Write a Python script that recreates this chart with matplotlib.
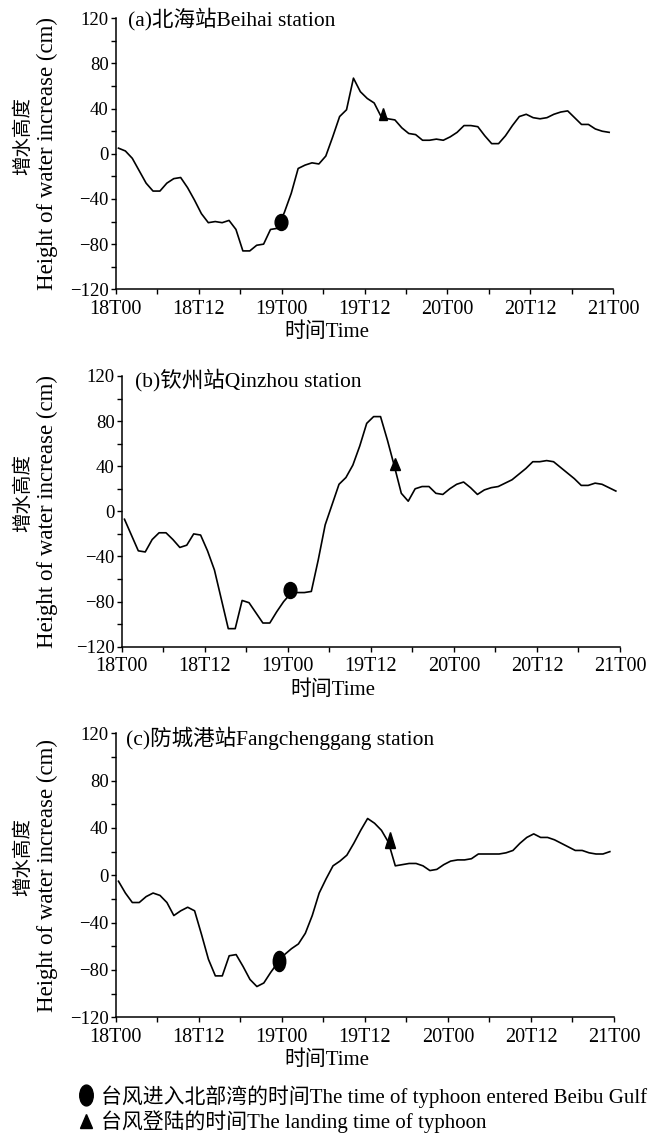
import numpy as np
import matplotlib
matplotlib.use('Agg')
import matplotlib.pyplot as plt
from matplotlib.markers import MarkerStyle
from matplotlib.transforms import Affine2D
from matplotlib.lines import Line2D

plt.rcParams['font.family'] = ['Liberation Serif', 'Noto Sans CJK SC']
plt.rcParams['axes.unicode_minus'] = True

# hourly water increase (cm), 18T00 -> 21T00
hours = np.arange(72) + 0.4

beihai = [5, 2.5, -4, -15, -26, -33, -33, -26, -22, -21, -30, -41, -53, -61, -60, -61,
          -59, -67, -86, -86, -81, -80, -67, -66, -52, -35, -13, -10, -8, -9, -2, 15,
          33, 39, 67, 55, 49, 45, 33, 31, 30, 23, 18, 17, 12, 12, 13, 12,
          15, 19, 25, 25, 24, 16, 9, 9, 16, 25, 33, 35, 32, 31, 32, 35,
          37, 38, 32, 26, 26, 22, 20, 19]

qinzhou = [-7, -21, -35, -36, -25, -19, -19, -25, -32, -30, -20, -21, -35, -52, -78, -104,
           -104, -79, -81, -90, -99, -99, -89, -80, -73, -72, -72, -71, -43, -12, 6, 24,
           30, 41, 58, 78, 84, 84, 63, 40, 16, 9, 20, 22, 22, 16, 15, 20,
           24, 26, 21, 15, 19, 21, 22, 25, 28, 33, 38, 44, 44, 45, 44, 39,
           34, 29, 23, 23, 25, 24, 21, 18]

fangcheng = [-5, -15, -23, -23, -18, -15, -17, -23, -34, -30, -27, -30, -50, -71, -85, -85,
             -68, -67, -77, -88, -94, -91, -82, -74, -67, -62, -58, -49, -34, -15, -3, 8,
             12, 17, 27, 38, 48, 44, 38, 28, 8, 9, 10, 10, 8, 4, 5, 9,
             12, 13, 13, 14, 18, 18, 18, 18, 19, 21, 27, 32, 35, 32, 32, 30,
             27, 24, 21, 21, 19, 18, 18, 20]

titles = ['(a)北海站Beihai station', '(b)钦州站Qinzhou station', '(c)防城港站Fangchenggang station']
# (hour, value) of typhoon entering Beibu Gulf and of landfall
gulf_pts = [(23.9, -60), (24.3, -70), (23.6, -72)]
land_pts = [(38.7, 35), (39.5, 42), (39.7, 30)]

xticks = np.arange(0, 73, 6)
xticklabels = ['18T00', '', '18T12', '', '19T00', '', '19T12', '', '20T00', '', '20T12', '', '21T00']

W, H = 663, 1139
fig = plt.figure(figsize=(W / 100, H / 100), dpi=100)

# axes boxes in pixels: left, top, right, bottom
boxes = [(115.7, 18.3, 613.3, 289.3),
         (121.7, 376.0, 620.0, 646.7),
         (115.7, 733.3, 614.0, 1017.3)]
circle_scale = [(0.8, 1.0), (0.8, 1.0), (0.62, 1.0)]
circle_size = [11.5, 11.5, 14.5]
tri_scale = [(0.75, 1.0), (0.8, 1.0), (0.6, 1.0)]
tri_size = [8.6, 8.6, 12.0]
series = [beihai, qinzhou, fangcheng]

for i in range(3):
    l, t, r, b = boxes[i]
    ax = fig.add_axes([l / W, 1 - b / H, (r - l) / W, (b - t) / H])
    ax.plot(hours, series[i], color='black', lw=1.2)

    circ = MarkerStyle('o', transform=Affine2D().scale(*circle_scale[i]))
    tri = MarkerStyle('^', transform=Affine2D().scale(*tri_scale[i]))
    ax.plot(*gulf_pts[i], ls='none', marker=circ, ms=circle_size[i], color='black')
    ax.plot(*land_pts[i], ls='none', marker=tri, ms=tri_size[i], color='black')

    ax.set_xlim(0, 72)
    ax.set_ylim(-120, 120)
    ax.set_xticks(xticks)
    ax.set_xticklabels(xticklabels, fontsize=14.5)
    ax.set_yticks(np.arange(-120, 121, 40))
    ax.set_yticks(np.arange(-120, 121, 20), minor=True)
    ax.tick_params(axis='y', labelsize=13.5, pad=1.5)
    ax.tick_params(axis='x', pad=4)
    ax.tick_params(which='both', direction='out', length=3.5, width=1)
    for s in ['top', 'right']:
        ax.spines[s].set_visible(False)
    for s in ['left', 'bottom']:
        ax.spines[s].set_linewidth(1.1)

    ax.text([1.8, 1.9, 1.5][i], [119, 116, 116][i], titles[i], fontsize=15.5,
            va='center', ha='left')

    # x label sits left of the axis centre
    fig.text(327 / W + (l - 115.7) / W, 1 - (b + 43) / H, '时间Time', fontsize=15,
             ha='center', va='center')
    # two-line y label
    fig.text(23 / W, 1 - ((t + b) / 2 - 18) / H, '增水高度', fontsize=14,
             rotation=90, ha='center', va='center')
    fig.text(47 / W, 1 - (t + b) / 2 / H, 'Height of water increase (cm)', fontsize=16.5,
             rotation=90, ha='center', va='center')

handles = [Line2D([], [], ls='none', color='black', ms=15,
                  marker=MarkerStyle('o', transform=Affine2D().scale(0.65, 1.0))),
           Line2D([], [], ls='none', color='black', ms=10,
                  marker=MarkerStyle('^', transform=Affine2D().scale(0.8, 1.0)))]
labels = ['台风进入北部湾的时间The time of typhoon entered Beibu Gulf',
          '台风登陆的时间The landing time of typhoon']
fig.legend(handles, labels, loc='upper left', bbox_to_anchor=(80 / W, 1 - 1085 / H),
           frameon=False, fontsize=15, handlelength=0.6, handletextpad=0.4,
           labelspacing=0.15, borderpad=0, borderaxespad=0)

fig.savefig('out.png', dpi=100)
